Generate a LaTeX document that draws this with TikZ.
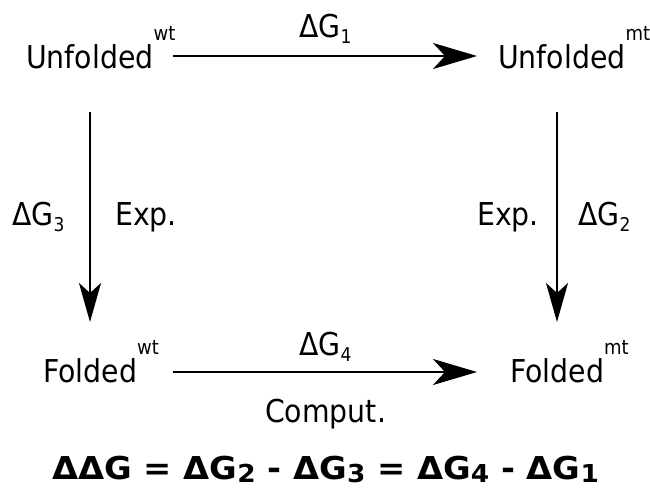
\documentclass[tikz,border=0pt]{standalone}
\usepackage{fontspec}
\setmainfont{DejaVu Sans}[FakeStretch=0.9]
\newfontfamily\eqfont{DejaVu Sans}[FakeStretch=1.07]
\usetikzlibrary{arrows.meta}
\newcommand{\lblfont}{\fontsize{31.5}{36}\selectfont}
\newcommand{\supr}[1]{\raisebox{28pt}{\fontsize{20}{22}\selectfont #1}}
\newcommand{\subr}[1]{\raisebox{-6pt}{\fontsize{19}{20}\selectfont #1}}
\newcommand{\eqsub}[1]{\raisebox{-3pt}{\fontsize{24.7}{26}\selectfont #1}}
\begin{document}
\begin{tikzpicture}[x=1pt,y=-1pt,
  txt/.style={anchor=base west, inner sep=0pt, font=\lblfont},
  harr/.style={line width=2pt, -{Stealth[length=44pt,width=26pt,inset=12pt]}},
  varr/.style={line width=2pt, -{Stealth[length=39pt,width=22pt,inset=10pt]}}]
\useasboundingbox (0,0) rectangle (650,488);
% state nodes
\node[txt] (uwt) at (26,68) {Unfolded\supr{wt}};
\node[txt] (umt) at (498,68) {Unfolded\supr{mt}};
\node[txt] (fwt) at (43,382) {Folded\supr{wt}};
\node[txt] (fmt) at (510,382) {Folded\supr{mt}};
% arrow end points
\coordinate (a1s) at (173,56);
\coordinate (a1e) at (477,56);
\coordinate (a4s) at (173,372);
\coordinate (a4e) at (477,372);
\coordinate (a3s) at (90,112);
\coordinate (a3e) at (90,322);
\coordinate (a2s) at (557,112);
\coordinate (a2e) at (557,322);
\draw[harr] (a1s) -- (a1e);
\draw[harr] (a4s) -- (a4e);
\draw[varr] (a3s) -- (a3e);
\draw[varr] (a2s) -- (a2e);
% labels
\node[txt] (g1) at (299,37) {ΔG\subr{1}};
\node[txt] (g4) at (299,355) {ΔG\subr{4}};
\node[txt] (g3) at (12,225) {ΔG\subr{3}};
\node[txt] (g2) at (578,225) {ΔG\subr{2}};
\node[txt] (e1) at (115,225) {Exp.};
\node[txt] (e2) at (477,225) {Exp.};
\node[txt] (cp) at (265,422) {Comput.};
\node[anchor=base west, inner sep=0pt] (eq) at (52,479)
  {\eqfont\bfseries\fontsize{31.5}{36}\selectfont ΔΔG = ΔG\eqsub{2} - ΔG\eqsub{3} = ΔG\eqsub{4} - ΔG\eqsub{1}};
\end{tikzpicture}
\end{document}
